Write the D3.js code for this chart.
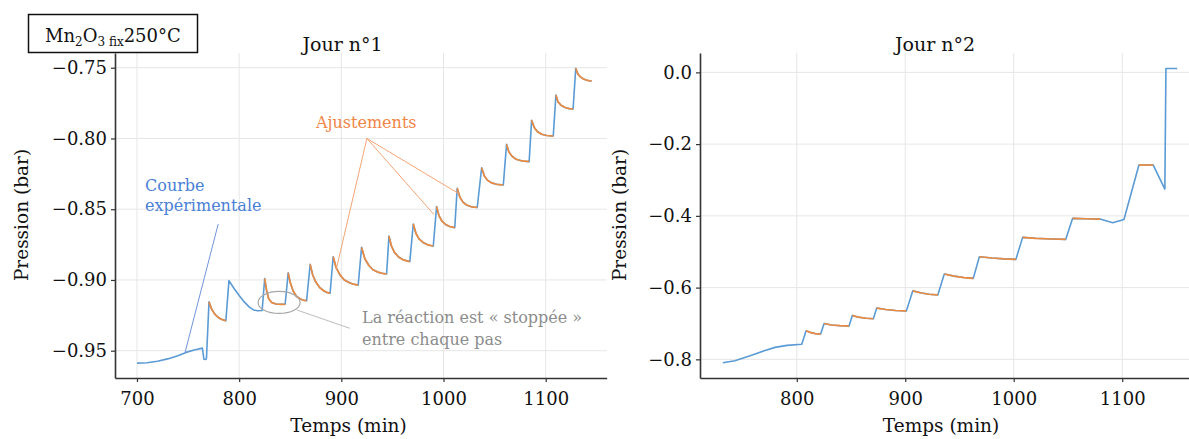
<!DOCTYPE html>
<html lang="fr">
  <head>
    <meta charset="utf-8">
    <title>Mn2O3 fix 250°C</title>
    <script src="https://d3js.org/d3.v7.min.js"></script>
    <style>
      body { margin: 0; background: #fff; }
      text { font-family: "DejaVu Serif", serif; }
    </style>
  </head>
  <body>
    <script type="text/javascript">

    // Jour 1 : courbe expérimentale
    var day1Time = [700, 710, 720, 730, 740, 748, 756, 764, 765.5, 767.5, 768,
      770.5, 773, 776, 779, 782, 785, 787,
      790, 795, 800, 805, 810, 814, 818, 822.5,
      825, 827, 829, 832, 836, 841, 845,
      848, 850, 853, 856, 860, 863, 866,
      869.5, 872, 875, 879, 883, 886, 889,
      892, 895, 899, 903, 908, 912, 916.5,
      919.8, 923, 927, 931, 936, 940, 944.3,
      946.6, 949, 952, 956, 960, 964, 967,
      970.4, 973, 976, 980, 984, 987, 990,
      993.2, 995.5, 998.5, 1002, 1006, 1011,
      1013.4, 1016, 1019, 1023, 1028, 1033,
      1037.3, 1040, 1043, 1047, 1052, 1058.5,
      1061.7, 1064, 1067, 1071, 1077, 1083.8,
      1086.2, 1089, 1092, 1096, 1101, 1107.4,
      1110, 1112, 1115, 1119, 1123, 1126.8,
      1129.4, 1131.5, 1134, 1137, 1141, 1145];
    var day1Pressure = [-0.9588, -0.9585, -0.9575, -0.9558, -0.9535, -0.9512, -0.9495, -0.9482, -0.9560, -0.9562, -0.9555,
      -0.9155, -0.9205, -0.9240, -0.9262, -0.9276, -0.9284, -0.9288,
      -0.9005, -0.9060, -0.9110, -0.9155, -0.9192, -0.9212, -0.9218, -0.9216,
      -0.8990, -0.9080, -0.9135, -0.9160, -0.9170, -0.9172, -0.9172,
      -0.8950, -0.9020, -0.9080, -0.9115, -0.9135, -0.9143, -0.9147,
      -0.8890, -0.8965, -0.9015, -0.9055, -0.9078, -0.9088, -0.9094,
      -0.8836, -0.8915, -0.8968, -0.9000, -0.9020, -0.9030, -0.9036,
      -0.8770, -0.8850, -0.8898, -0.8928, -0.8945, -0.8953, -0.8958,
      -0.8690, -0.8760, -0.8805, -0.8838, -0.8856, -0.8865, -0.8870,
      -0.8605, -0.8670, -0.8710, -0.8735, -0.8750, -0.8756, -0.8760,
      -0.8482, -0.8545, -0.8585, -0.8608, -0.8622, -0.8630,
      -0.8352, -0.8415, -0.8450, -0.8472, -0.8484, -0.8488,
      -0.8207, -0.8265, -0.8295, -0.8314, -0.8324, -0.8329,
      -0.8042, -0.8095, -0.8125, -0.8147, -0.8159, -0.8164,
      -0.7872, -0.7925, -0.7952, -0.7970, -0.7979, -0.7983,
      -0.7693, -0.7740, -0.7765, -0.7781, -0.7789, -0.7792,
      -0.7504, -0.7545, -0.7565, -0.7580, -0.7590, -0.7594];
    // Jour 1 : intervalles ajustés (début, fin)
    var day1FitStart = [770.5, 825, 848, 869.5, 892, 919.8, 946.6, 970.4, 993.2, 1013.4, 1037.3, 1061.7, 1086.2, 1110, 1129.4];
    var day1FitEnd   = [787, 845, 866, 889, 916.5, 944.3, 967, 990, 1011, 1033, 1058.5, 1083.8, 1107.4, 1126.8, 1145];

    // Jour 2 : courbe expérimentale
    var day2Time = [731.8, 743, 757, 770, 780, 791, 804.6,
      808.6, 813, 817, 822,
      825.2, 832, 840, 848.2,
      851.2, 857, 864, 870.6,
      873.7, 882, 891, 901,
      906.9, 915, 922, 930,
      936, 945, 954, 962.7,
      968.3, 980, 991, 1002,
      1008.2, 1020, 1035, 1048,
      1054.3, 1067, 1079.5,
      1091.2, 1101.6,
      1115.4, 1128.6,
      1139.3, 1140.3, 1150.7];
    var day2Pressure = [-0.8095, -0.8040, -0.7900, -0.7760, -0.7666, -0.7610, -0.7580,
      -0.7203, -0.7255, -0.7282, -0.7295,
      -0.7000, -0.7042, -0.7062, -0.7072,
      -0.6775, -0.6825, -0.6855, -0.6868,
      -0.6570, -0.6610, -0.6638, -0.6650,
      -0.6092, -0.6150, -0.6185, -0.6205,
      -0.5622, -0.5680, -0.5720, -0.5743,
      -0.5140, -0.5175, -0.5198, -0.5213,
      -0.4600, -0.4625, -0.4645, -0.4655,
      -0.4070, -0.4080, -0.4090,
      -0.4190, -0.4100,
      -0.2584, -0.2584,
      -0.3253, 0.0110, 0.0110];
    var day2FitStart = [808.6, 825.2, 851.2, 873.7, 906.9, 936, 968.3, 1008.2, 1054.3, 1115.4];
    var day2FitEnd   = [822, 848.2, 870.6, 901, 930, 962.7, 1002, 1048, 1079.5, 1128.6];

    var xTicks1 = [700, 800, 900, 1000, 1100];
    var yTicks1 = [-0.95, -0.90, -0.85, -0.80, -0.75];
    var xTicks2 = [800, 900, 1000, 1100];
    var yTicks2 = [-0.8, -0.6, -0.4, -0.2, 0.0];

    var w = 1189, h = 439;
    var blue = "#5b9bd5", orange = "#ec8b3f";

    var svg = d3.select("body").append("svg")
      .attr("width", w).attr("height", h);

    function drawPanel(opts) {
      var x = d3.scaleLinear().domain(opts.xDomain).range(opts.xRange);
      var y = d3.scaleLinear().domain(opts.yDomain).range([378, 53]);
      var g = svg.append("g");

      // grille
      g.selectAll("line.vgrid").data(opts.xTicks).enter().append("line")
        .attr("x1", d => x(d)).attr("x2", d => x(d))
        .attr("y1", 53).attr("y2", 378)
        .attr("stroke", "#e6e6e6").attr("stroke-width", 1);
      g.selectAll("line.hgrid").data(opts.yTicks).enter().append("line")
        .attr("x1", opts.xRange[0]).attr("x2", opts.xRange[1])
        .attr("y1", d => y(d)).attr("y2", d => y(d))
        .attr("stroke", "#e6e6e6").attr("stroke-width", 1);

      var xAxis = d3.axisBottom(x).tickValues(opts.xTicks).tickSize(4).tickSizeOuter(0).tickPadding(10).tickFormat(d3.format("d"));
      var yAxis = d3.axisLeft(y).tickValues(opts.yTicks).tickSize(4).tickSizeOuter(0).tickPadding(4).tickFormat(d => d3.format(opts.yFmt)(d));

      var gx = g.append("g").attr("transform", "translate(0,378)").call(xAxis);
      var gy = g.append("g").attr("transform", "translate(" + opts.xRange[0] + ",0)").call(yAxis);
      [gx, gy].forEach(function(a) {
        a.select(".domain").attr("stroke", "#333").attr("stroke-width", 1.6);
        a.selectAll(".tick line").attr("stroke", "#333").attr("stroke-width", 1.2);
        a.selectAll(".tick text").attr("font-family", "DejaVu Serif").attr("font-size", 18).attr("fill", "#111");
      });

      // courbe expérimentale
      var pts = opts.time.map((t, i) => [t, opts.pressure[i]]);
      var line = d3.line().x(d => x(d[0])).y(d => y(d[1]));
      g.append("path").datum(pts)
        .attr("d", line).attr("fill", "none")
        .attr("stroke", blue).attr("stroke-width", 1.6).attr("stroke-linejoin", "round");

      // ajustements
      opts.fitStart.forEach(function(s, k) {
        var seg = pts.filter(p => p[0] >= s && p[0] <= opts.fitEnd[k]);
        g.append("path").datum(seg)
          .attr("d", line).attr("fill", "none")
          .attr("stroke", orange).attr("stroke-width", 1.7).attr("stroke-linejoin", "round");
      });

      // titres
      g.append("text").attr("x", opts.titleX).attr("y", 51)
        .attr("text-anchor", "middle").attr("font-size", 19).attr("fill", "#111").text(opts.title);
      g.append("text").attr("x", opts.titleX + 6).attr("y", 432)
        .attr("text-anchor", "middle").attr("font-size", 18.5).attr("fill", "#111").text("Temps (min)");
      g.append("text").attr("transform", "translate(" + opts.yLabelX + ",215) rotate(-90)")
        .attr("text-anchor", "middle").attr("font-size", 18.5).attr("fill", "#111").text("Pression (bar)");

      return {x: x, y: y, g: g};
    }

    var p1 = drawPanel({
      xDomain: [678.5, 1159.7], xRange: [115, 606.7],
      yDomain: [-0.9693, -0.7396],
      xTicks: xTicks1, yTicks: yTicks1, yFmt: ".2f",
      time: day1Time, pressure: day1Pressure,
      fitStart: day1FitStart, fitEnd: day1FitEnd,
      title: "Jour n°1", titleX: 342.5, yLabelX: 28
    });

    var p2 = drawPanel({
      xDomain: [710.8, 1171.7], xRange: [700, 1200],
      yDomain: [-0.852, 0.054],
      xTicks: xTicks2, yTicks: yTicks2, yFmt: ".1f",
      time: day2Time, pressure: day2Pressure,
      fitStart: day2FitStart, fitEnd: day2FitEnd,
      title: "Jour n°2", titleX: 935, yLabelX: 626
    });

    // annotations (jour 1)
    var x1 = p1.x, y1 = p1.y, g1 = p1.g;
    g1.append("line")
      .attr("x1", x1(779.5)).attr("y1", y1(-0.8605))
      .attr("x2", x1(747)).attr("y2", y1(-0.9514))
      .attr("stroke", "#6f95dc").attr("stroke-width", 1);
    g1.append("text").attr("x", 145).attr("y", 191)
      .attr("font-size", 16).attr("fill", "#4a7fd6").text("Courbe");
    g1.append("text").attr("x", 145).attr("y", 211)
      .attr("font-size", 16).attr("fill", "#4a7fd6").text("expérimentale");

    var ajEnds = [[895.2, -0.8919], [990.6, -0.8537], [1015.6, -0.8393]];
    g1.selectAll("line.aj").data(ajEnds).enter().append("line")
      .attr("x1", x1(925)).attr("y1", y1(-0.80))
      .attr("x2", d => x1(d[0])).attr("y2", d => y1(d[1]))
      .attr("stroke", "#f5a574").attr("stroke-width", 1);
    g1.append("text").attr("x", 316).attr("y", 128)
      .attr("font-size", 16).attr("fill", "#f08545").text("Ajustements");

    g1.append("ellipse")
      .attr("cx", x1(839.1)).attr("cy", y1(-0.9159))
      .attr("rx", 21).attr("ry", 11)
      .attr("fill", "none").attr("stroke", "#a6a6a6").attr("stroke-width", 1.2);
    g1.append("line")
      .attr("x1", x1(856.3)).attr("y1", y1(-0.9212))
      .attr("x2", x1(908.4)).attr("y2", y1(-0.9342))
      .attr("stroke", "#bdbdbd").attr("stroke-width", 1);
    g1.append("text").attr("x", 362).attr("y", 323)
      .attr("font-size", 16).attr("fill", "#8c8c8c").text("La réaction est « stoppée »");
    g1.append("text").attr("x", 362).attr("y", 345)
      .attr("font-size", 16).attr("fill", "#8c8c8c").text("entre chaque pas");

    // étiquette
    svg.append("rect").attr("x", 28.5).attr("y", 14.5).attr("width", 169).attr("height", 38)
      .attr("fill", "#fff").attr("stroke", "#111").attr("stroke-width", 1.5);
    var lab = svg.append("text").attr("x", 45).attr("y", 42).attr("font-size", 18).attr("fill", "#111");
    lab.append("tspan").text("Mn");
    lab.append("tspan").attr("font-size", 12).attr("dy", 4).text("2");
    lab.append("tspan").attr("dy", -4).text("O");
    lab.append("tspan").attr("font-size", 12).attr("dy", 4).text("3 fix");
    lab.append("tspan").attr("dy", -4).text("250°C");

    </script>
  </body>
</html>
